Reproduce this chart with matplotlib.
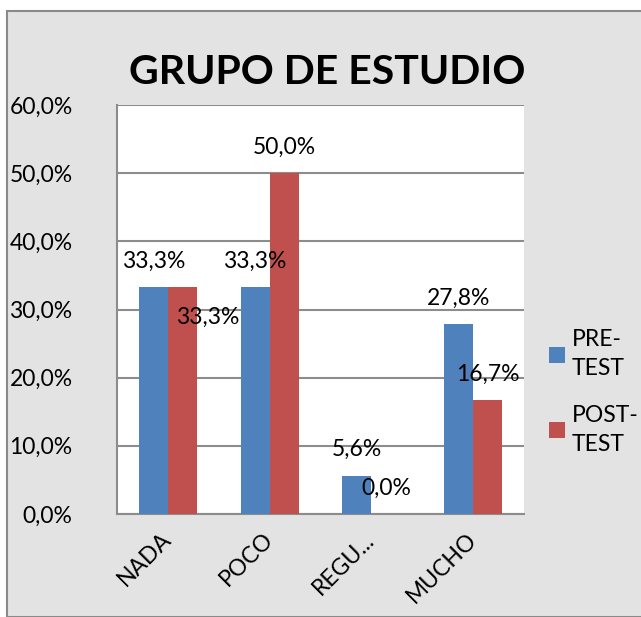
import matplotlib.pyplot as plt
from matplotlib.patches import Rectangle, Patch
import numpy as np

categories = ['NADA', 'POCO', 'REGU...', 'MUCHO']
pre_test = [33.3, 33.3, 5.6, 27.8]
post_test = [33.3, 50.0, 0.0, 16.7]
series_names = ['PRE-\nTEST', 'POST-\nTEST']
yticks = [0, 10, 20, 30, 40, 50, 60]

blue = '#4F81BD'
red = '#C0504D'
grid_gray = '#8C8C8C'
plt.rcParams['font.family'] = ['Lato', 'DejaVu Sans']

fig = plt.figure(figsize=(6.41, 6.17), dpi=100)
fig.patch.set_facecolor('white')

# chart area background (stand-in for the marble texture) + border
fig.add_artist(Rectangle((7 / 641, 0), 1, 1 - 11 / 617, transform=fig.transFigure,
                         facecolor='#e3e3e3', edgecolor='#8a8a8a', linewidth=1.5, zorder=0))

ax = fig.add_axes([117 / 641, 1 - 514 / 617, (524 - 117) / 641, (514 - 105) / 617])
ax.set_facecolor('white')

x = np.arange(len(categories))
w = 0.285
b1 = ax.bar(x - w / 2, pre_test, w, color=blue, zorder=3)
b2 = ax.bar(x + w / 2, post_test, w, color=red, zorder=3)

ax.set_ylim(0, 60)
ax.set_xlim(-0.5, len(categories) - 0.5)
ax.set_yticks(yticks)
ax.set_yticklabels([f'{v:.1f}%'.replace('.', ',') for v in yticks], fontsize=16.5)
ax.tick_params(axis='y', length=0, pad=32)
ax.yaxis.grid(True, color=grid_gray, linewidth=1.5, zorder=0)
ax.set_axisbelow(True)

ax.set_xticks(x)
ax.set_xticklabels(categories, fontsize=16.5, rotation=45, ha='right', va='center',
                   rotation_mode='anchor')
ax.tick_params(axis='x', length=0, pad=16)

for s in ['top', 'right']:
    ax.spines[s].set_visible(False)
for s in ['left', 'bottom']:
    ax.spines[s].set_color(grid_gray)
    ax.spines[s].set_linewidth(1.5)

# data labels, Excel nudged the NADA post label away from the overlap
for bars, vals, series in [(b1, pre_test, 0), (b2, post_test, 1)]:
    for i, (bar, v) in enumerate(zip(bars, vals)):
        dx, dy = 0, 26
        if series == 1 and i == 0:
            dx, dy = 25, -30
        ax.annotate(f'{v:.1f}%'.replace('.', ','),
                    (bar.get_x() + bar.get_width() / 2, v),
                    xytext=(dx, dy), textcoords='offset pixels',
                    ha='center', va='center', fontsize=16.5, zorder=5)

fig.text(0.511, 1 - 73 / 617, 'GRUPO DE ESTUDIO', ha='center', va='center',
         fontsize=29.5, fontweight='bold')

handles = [Patch(facecolor=blue), Patch(facecolor=red)]
leg = fig.legend(handles, series_names, loc='center left',
                 bbox_to_anchor=(528 / 641, 1 - 392 / 617), frameon=False,
                 fontsize=16.5, handlelength=0.7, handleheight=0.7, handletextpad=0.3,
                 labelspacing=1.1)
for t in leg.get_texts():
    t.set_linespacing(1.5)

fig.savefig('out.png', dpi=100)
